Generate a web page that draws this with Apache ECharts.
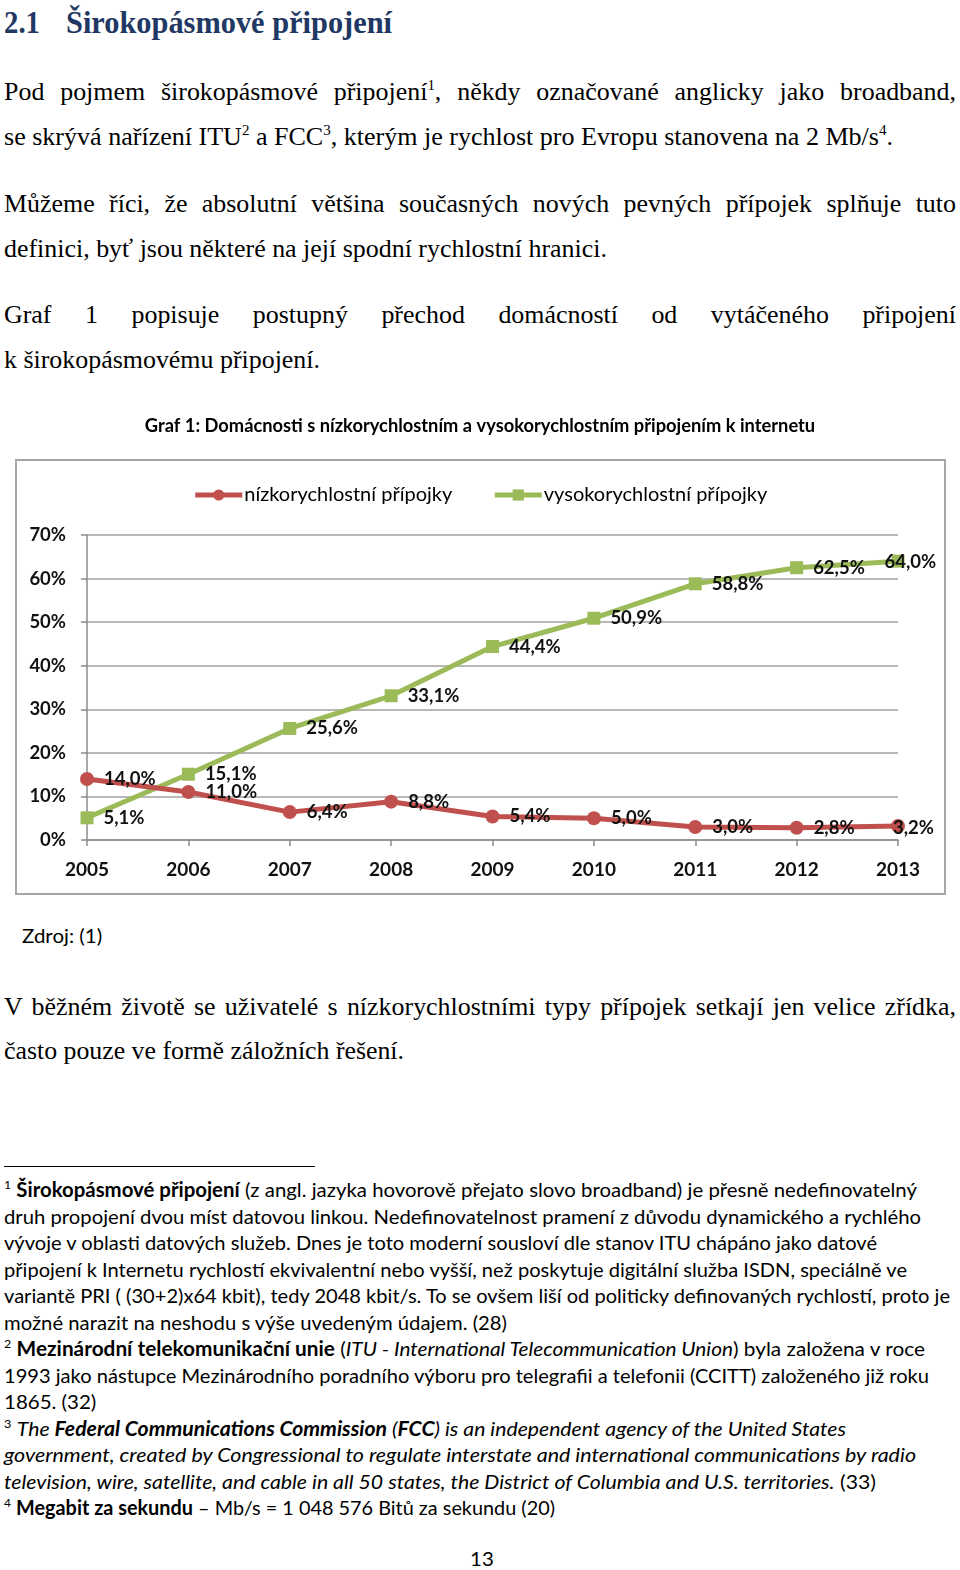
<!DOCTYPE html>
<html><head><meta charset="utf-8">
<script src="https://cdn.jsdelivr.net/npm/echarts@6/dist/echarts.min.js"></script>
<style>
html,body{margin:0;padding:0;background:#fff;}
body{width:960px;height:1570px;position:relative;overflow:hidden;}
.ln{position:absolute;left:4px;top:0;white-space:nowrap;width:max-content;transform-origin:0 0;}
.serif{font-family:"Liberation Serif","Times New Roman",serif;font-size:26px;line-height:30px;color:#000;}
.head{font-family:"Liberation Serif","Times New Roman",serif;font-size:32px;line-height:40px;font-weight:bold;color:#1F3864;}
.cal{font-family:Lato,"Open Sans",sans-serif;font-size:20px;line-height:26px;color:#000;}
.serif sup{font-size:15px;line-height:0;vertical-align:10px;}
.cal sup{font-size:12px;line-height:0;vertical-align:8px;}
b{font-weight:bold;}
#sep{position:absolute;left:4px;top:1166px;width:311px;height:1px;background:#000;}
#chart{position:absolute;left:0;top:400px;width:960px;height:500px;}
</style></head><body>

<div class="ln head" data-g="h" data-b="33" data-w="36">2.1</div>
<div class="ln head" data-g="h" data-b="33" data-w="326" style="left:66px">Širokopásmové připojení</div>

<div class="ln serif" data-g="s" data-b="100" data-w="952" data-j="1">Pod pojmem širokopásmové připojení<sup>1</sup>, někdy označované anglicky jako broadband,</div>
<div class="ln serif" data-g="s" data-b="145" data-w="889">se skrývá nařízení ITU<sup>2</sup> a FCC<sup>3</sup>, kterým je rychlost pro Evropu stanovena na 2 Mb/s<sup>4</sup>.</div>
<div class="ln serif" data-g="s" data-b="212" data-w="952" data-j="1">Můžeme říci, že absolutní většina současných nových pevných přípojek splňuje tuto</div>
<div class="ln serif" data-g="s" data-b="257" data-w="603">definici, byť jsou některé na její spodní rychlostní hranici.</div>
<div class="ln serif" data-g="s" data-b="323" data-w="952" data-j="1">Graf 1 popisuje postupný přechod domácností od vytáčeného připojení</div>
<div class="ln serif" data-g="s" data-b="368" data-w="316">k širokopásmovému připojení.</div>

<div id="chart"></div>

<div class="ln cal" data-g="c" data-b="943" style="left:22px">Zdroj: (1)</div>

<div class="ln serif" data-g="s" data-b="1015" data-w="952" data-j="1">V běžném životě se uživatelé s nízkorychlostními typy přípojek setkají jen velice zřídka,</div>
<div class="ln serif" data-g="s" data-b="1059" data-w="400">často pouze ve formě záložních řešení.</div>

<div id="sep"></div>

<div class="ln cal" data-g="c" data-b="1197" data-w="913"><sup>1</sup> <b>Širokopásmové připojení</b> (z angl. jazyka hovorově přejato slovo broadband) je přesně nedefinovatelný</div>
<div class="ln cal" data-g="c" data-b="1224" data-w="917">druh propojení dvou míst datovou linkou. Nedefinovatelnost pramení z důvodu dynamického a rychlého</div>
<div class="ln cal" data-g="c" data-b="1250" data-w="873">vývoje v oblasti datových služeb. Dnes je toto moderní sousloví dle stanov ITU chápáno jako datové</div>
<div class="ln cal" data-g="c" data-b="1277" data-w="903">připojení k Internetu rychlostí ekvivalentní nebo vyšší, než poskytuje digitální služba ISDN, speciálně ve</div>
<div class="ln cal" data-g="c" data-b="1303" data-w="946">variantě PRI ( (30+2)x64 kbit), tedy 2048 kbit/s. To se ovšem liší od politicky definovaných rychlostí, proto je</div>
<div class="ln cal" data-g="c" data-b="1330" data-w="503">možné narazit na neshodu s výše uvedeným údajem. (28)</div>
<div class="ln cal" data-g="c" data-b="1356" data-w="921"><sup>2</sup> <b>Mezinárodní telekomunikační unie</b> (<i>ITU - International Telecommunication Union</i>) byla založena v roce</div>
<div class="ln cal" data-g="c" data-b="1383" data-w="925">1993 jako nástupce Mezinárodního poradního výboru pro telegrafii a telefonii (CCITT) založeného již roku</div>
<div class="ln cal" data-g="c" data-b="1409">1865. (32)</div>
<div class="ln cal" data-g="c" data-b="1436" data-w="842"><sup>3</sup> <i>The <b>Federal Communications Commission</b> (<b>FCC</b>) is an independent agency of the United States</i></div>
<div class="ln cal" data-g="c" data-b="1462" data-w="912"><i>government, created by Congressional to regulate interstate and international communications by radio</i></div>
<div class="ln cal" data-g="c" data-b="1489" data-w="872"><i>television, wire, satellite, and cable in all 50 states, the District of Columbia and U.S. territories.</i> (33)</div>
<div class="ln cal" data-g="c" data-b="1515" data-w="551"><sup>4</sup> <b>Megabit za sekundu</b> – Mb/s = 1 048 576 Bitů za sekundu (20)</div>

<div class="ln cal" data-g="c" data-b="1566" style="left:470px">13</div>

<script>
// ---- chart data ----
const years = ['2005','2006','2007','2008','2009','2010','2011','2012','2013'];
const lowSpeed = [14.0, 11.0, 6.4, 8.8, 5.4, 5.0, 3.0, 2.8, 3.2];
const highSpeed = [5.1, 15.1, 25.6, 33.1, 44.4, 50.9, 58.8, 62.5, 64.0];
const seriesNames = ['nízkorychlostní přípojky', 'vysokorychlostní přípojky'];
const chartTitle = 'Graf 1: Domácnosti s nízkorychlostním a vysokorychlostním připojením k internetu';
const yMin = 0, yMax = 70, yStep = 10;

const FONT = 'Lato, "Open Sans", sans-serif';
const fmt = v => v.toFixed(1).replace('.', ',') + '%';

// last labels pulled back inside the frame (as the original chart does)
function withLabels(values, lastOffset) {
  return values.map((v, i) => i === values.length - 1
    ? {value: v, label: {offset: lastOffset}}
    : v);
}

const chart = echarts.init(document.getElementById('chart'), null, {renderer: 'canvas'});
const labelStyle = {
  show: true, position: 'right', distance: 10,
  fontFamily: FONT, fontWeight: 'bold', fontSize: 18.5, color: '#111',
  formatter: p => fmt(p.value)
};
chart.setOption({
  animation: false,
  title: {
    text: chartTitle, left: 'center', top: 12,
    textStyle: {fontFamily: FONT, fontWeight: 'bold', fontSize: 18.3, color: '#000'}
  },
  graphic: [{
    type: 'rect', silent: true, z: -1,
    shape: {x: 16, y: 60, width: 929, height: 434},
    style: {fill: '#fff', stroke: '#a6a6a6', lineWidth: 2}
  }],
  legend: {
    top: 80, left: 'center', itemWidth: 47, itemHeight: 14, itemGap: 40,
    lineStyle: {width: 5},
    textStyle: {fontFamily: FONT, fontSize: 20, color: '#000', padding: [0, 0, 0, -3]},
    data: seriesNames
  },
  grid: {left: 87, right: 62, top: 135, bottom: 60, containLabel: false, outerBoundsMode: 'none'},
  xAxis: {
    type: 'category', data: years, boundaryGap: false,
    axisLine: {show: true, lineStyle: {color: '#8c8c8c', width: 1.5}},
    axisTick: {show: true, length: 6, lineStyle: {color: '#8c8c8c', width: 1.5}},
    axisLabel: {margin: 20, fontFamily: FONT, fontWeight: 'bold', fontSize: 19, color: '#111'},
    splitLine: {show: false}
  },
  yAxis: {
    type: 'value', min: yMin, max: yMax, interval: yStep,
    axisLine: {show: true, lineStyle: {color: '#8c8c8c', width: 1.5}},
    axisTick: {show: true, length: 6, lineStyle: {color: '#8c8c8c', width: 1.5}},
    axisLabel: {margin: 21, fontFamily: FONT, fontWeight: 'bold', fontSize: 18.5, color: '#111', formatter: v => v + '%'},
    splitLine: {show: true, lineStyle: {color: '#a0a0a0', width: 1.6}}
  },
  series: [{
    name: seriesNames[0], type: 'line', data: withLabels(lowSpeed, [-22, 2]),
    symbol: 'circle', symbolSize: 14,
    lineStyle: {color: '#C0504D', width: 5},
    itemStyle: {color: '#C0504D'},
    label: labelStyle, z: 3
  }, {
    name: seriesNames[1], type: 'line', data: withLabels(highSpeed, [-30, 1]),
    symbol: 'rect', symbolSize: 13,
    lineStyle: {color: '#9BBB59', width: 5},
    itemStyle: {color: '#9BBB59'},
    label: labelStyle, z: 2
  }]
});

// ---- text line fitting (position by baseline, scale to measured widths) ----
function fit() {
  const els = Array.from(document.querySelectorAll('.ln'));
  const groups = {};
  els.forEach(el => {
    el.style.transform = 'none'; el.style.wordSpacing = '0px';
    let m = el.querySelector('.bm');
    if (!m) {
      m = document.createElement('span');
      m.className = 'bm';
      m.style.cssText = 'display:inline-block;width:0;height:0;vertical-align:baseline;';
      el.insertBefore(m, el.firstChild);
    }
    el.style.top = '0px';
    const base = m.getBoundingClientRect().top - el.getBoundingClientRect().top;
    el.style.top = (+el.dataset.b - base) + 'px';
    el._w = el.getBoundingClientRect().width;
    const g = el.dataset.g;
    groups[g] = groups[g] || [];
    if (el.dataset.w && !el.dataset.j) groups[g].push(+el.dataset.w / el._w);
  });
  const gs = {};
  for (const g in groups) {
    const a = groups[g];
    gs[g] = a.length ? a.reduce((x, y) => x + y, 0) / a.length : 1;
  }
  els.forEach(el => {
    const g = el.dataset.g;
    if (el.dataset.j) {
      const s = gs[g];
      const n = (el.textContent.match(/ /g) || []).length;
      const target = +el.dataset.w / s;
      if (n && target > el._w) el.style.wordSpacing = ((target - el._w) / n) + 'px';
      el.style.transform = 'scaleX(' + s + ')';
    } else if (el.dataset.w) {
      el.style.transform = 'scaleX(' + (+el.dataset.w / el._w) + ')';
    } else {
      el.style.transform = 'scaleX(' + gs[g] + ')';
    }
  });
}
fit();
if (document.fonts && document.fonts.ready) document.fonts.ready.then(fit);
</script>
</body></html>
